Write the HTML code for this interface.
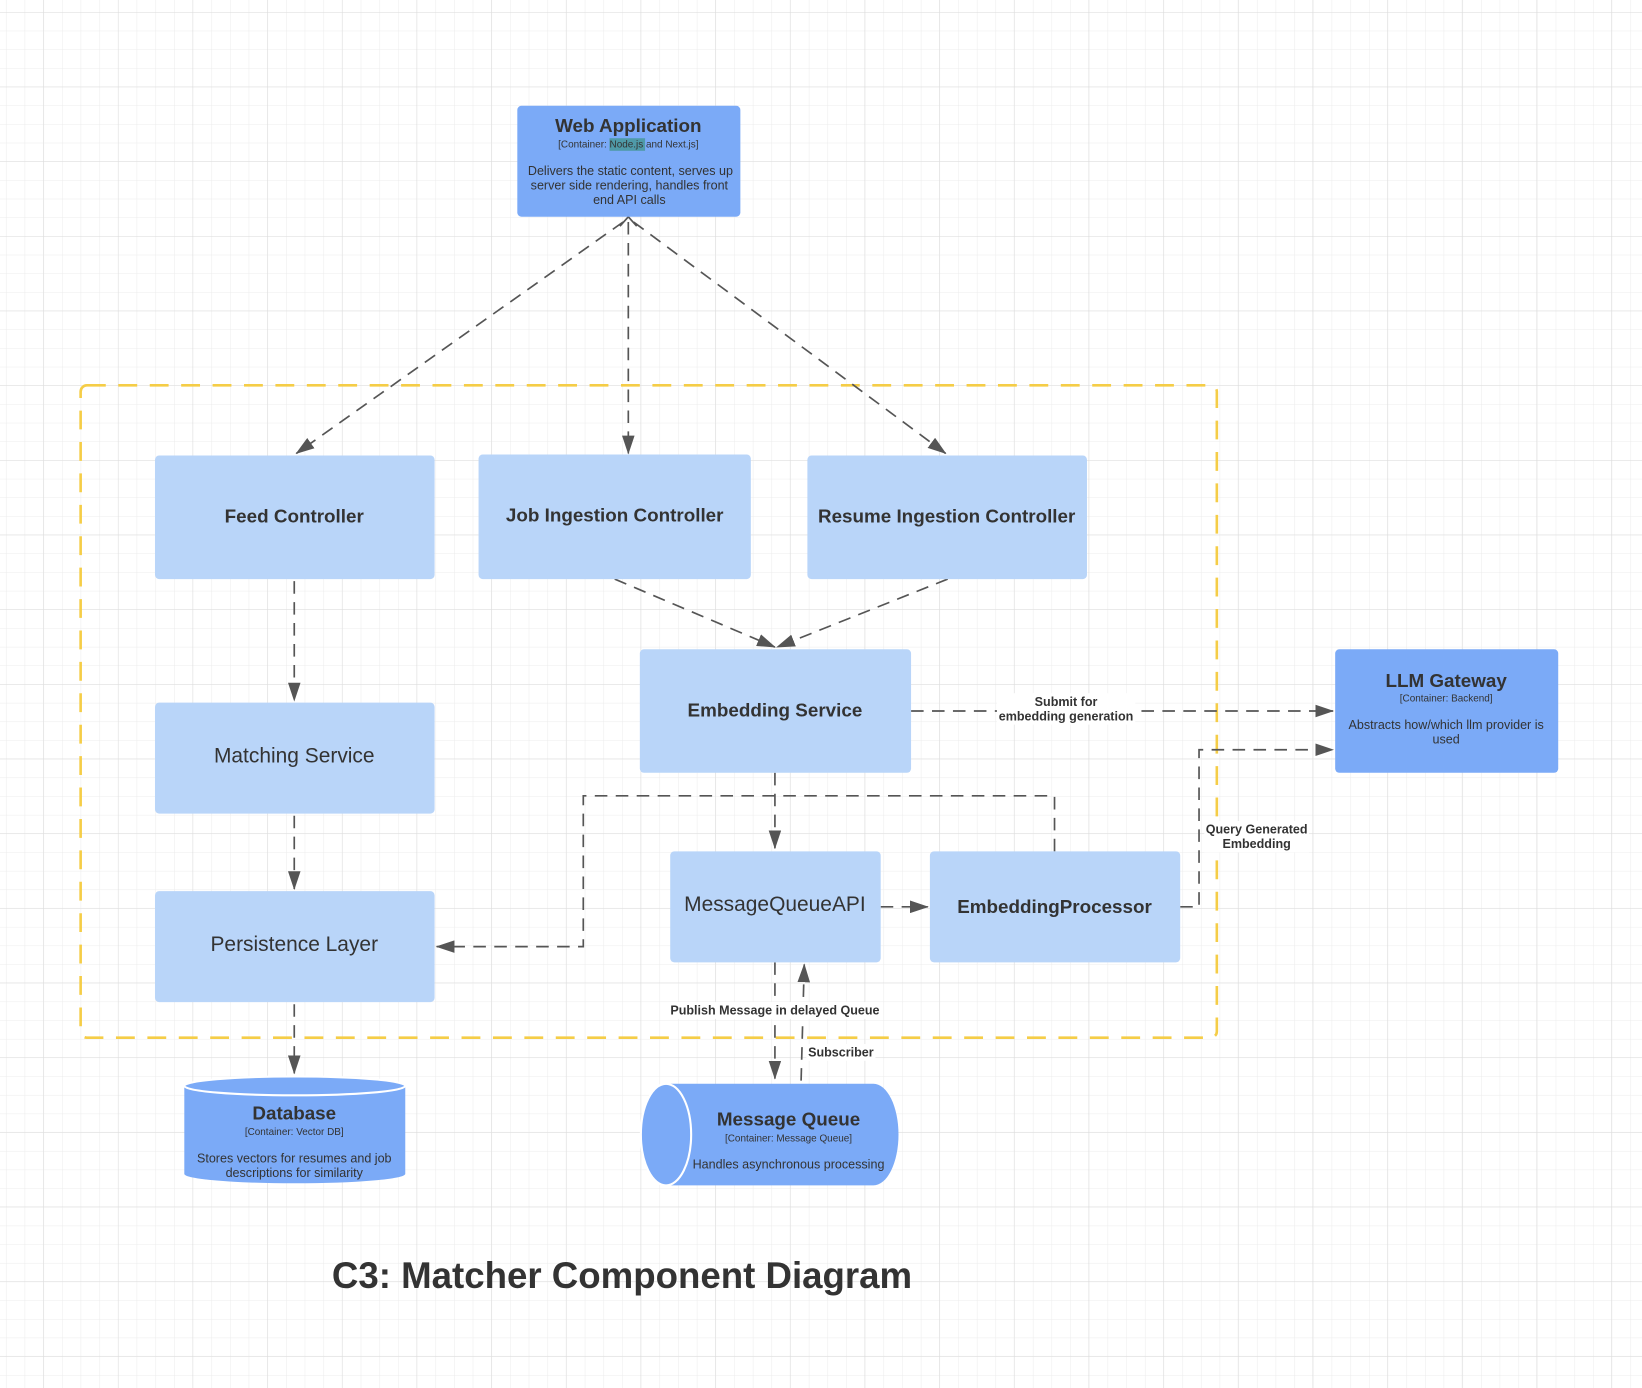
<!DOCTYPE html>
<html><head><meta charset="utf-8"><style>
html,body{margin:0;padding:0;background:#fff;}
svg{display:block;}
text{font-family:"Liberation Sans",Arial,sans-serif;fill:#333;}
</style></head><body>
<svg width="1642" height="1388" viewBox="0 0 1568 1325.5" preserveAspectRatio="none" xmlns="http://www.w3.org/2000/svg">
<defs>
<pattern id="minor" x="5.7" y="11.5" width="17.83" height="17.83" patternUnits="userSpaceOnUse">
<path d="M0 0V17.83M0 0H17.83" stroke="#ececec" stroke-width="1" fill="none"/>
</pattern>
<pattern id="major" x="41.3" y="11.5" width="71.3" height="71.3" patternUnits="userSpaceOnUse">
<path d="M0 0V71.3M0 0H71.3" stroke="#dcdcdc" stroke-width="1" fill="none"/>
</pattern>
<marker id="ar" markerWidth="10" markerHeight="10" refX="9" refY="5" orient="auto" markerUnits="userSpaceOnUse">
<path d="M0 0L10 5L0 10z" fill="#555"/>
</marker>
<marker id="ar2" markerWidth="18" markerHeight="12" refX="17" refY="6" orient="auto" markerUnits="userSpaceOnUse">
<path d="M0 0L18 6L0 12z" fill="#555"/>
</marker>
</defs>
<rect width="1568" height="1325.5" fill="#fff"/>
<rect width="1568" height="1325.5" fill="url(#minor)"/>
<rect width="1568" height="1325.5" fill="url(#major)"/>

<!-- boundary -->
<rect x="77" y="368" width="1085" height="623" rx="6" fill="none" stroke="#f5cd47" stroke-width="2.5" stroke-dasharray="18 12"/>

<g stroke="#555" stroke-width="1.6" fill="none" stroke-dasharray="12 8">
<path d="M595 212L283 433" marker-end="url(#ar2)"/>
<path d="M600 212V433" marker-end="url(#ar2)"/>
<path d="M605 212L903 433" marker-end="url(#ar2)"/>
<path d="M281 555V669" marker-end="url(#ar2)"/>
<path d="M281 779V849" marker-end="url(#ar2)"/>
<path d="M281 959V1025" marker-end="url(#ar2)"/>
<path d="M587 553L740 618" marker-end="url(#ar2)"/>
<path d="M905 553L742 618" marker-end="url(#ar2)"/>
<path d="M740 738V810" marker-end="url(#ar2)"/>
<path d="M1007 813V760H557V904H417" marker-end="url(#ar2)"/>
<path d="M841 866H886" marker-end="url(#ar2)"/>
<path d="M1127 866H1145V716H1273" marker-end="url(#ar2)"/>
<path d="M870 679H1273" marker-end="url(#ar2)"/>
<path d="M740 919V1030" marker-end="url(#ar2)"/>
<path d="M765 1032L768 921" marker-end="url(#ar2)"/>
</g>
<path d="M592 216L600 207L608 216" stroke="#555" stroke-width="1.6" fill="none"/>

<!-- label backgrounds -->
<rect x="952" y="662" width="132" height="30" fill="#fff"/>
<rect x="640" y="957" width="200" height="16" fill="#fff"/>
<rect x="770" y="997" width="66" height="16" fill="#fff"/>
<rect x="1150" y="784" width="100" height="30" fill="#fff"/>
<g font-size="12" font-weight="bold" text-anchor="middle">
<text x="1018" y="674">Submit for</text>
<text x="1018" y="688">embedding generation</text>
<text x="740" y="969">Publish Message in delayed Queue</text>
<text x="803" y="1009">Subscriber</text>
<text x="1200" y="796">Query Generated</text>
<text x="1200" y="810">Embedding</text>
</g>

<!-- light boxes -->
<g fill="#b9d5f9">
<rect x="148" y="435" width="267" height="118" rx="4"/>
<rect x="457" y="434" width="260" height="119" rx="4"/>
<rect x="771" y="435" width="267" height="118" rx="4"/>
<rect x="611" y="620" width="259" height="118" rx="4"/>
<rect x="148" y="671" width="267" height="106" rx="4"/>
<rect x="148" y="851" width="267" height="106" rx="4"/>
<rect x="640" y="813" width="201" height="106" rx="4"/>
<rect x="888" y="813" width="239" height="106" rx="4"/>
</g>
<g font-size="18" font-weight="bold" text-anchor="middle">
<text x="281" y="499">Feed Controller</text>
<text x="587" y="498">Job Ingestion Controller</text>
<text x="904" y="499">Resume Ingestion Controller</text>
<text x="740" y="684">Embedding Service</text>
<text x="1007" y="872">EmbeddingProcessor</text>
</g>
<g font-size="20" text-anchor="middle">
<text x="281" y="728">Matching Service</text>
<text x="281" y="908">Persistence Layer</text>
<text x="740" y="870">MessageQueueAPI</text>
</g>

<!-- dark boxes -->
<rect x="494" y="101" width="213" height="106" rx="4" fill="#7baaf7"/>
<rect x="582" y="132" width="34" height="12" fill="#4f9aa8"/>
<text x="600" y="126" font-size="18" font-weight="bold" text-anchor="middle">Web Application</text>
<text x="600" y="141" font-size="9.5" text-anchor="middle">[Container: Node.js and Next.js]</text>
<g font-size="12" text-anchor="middle">
<text x="602" y="167">Delivers the static content, serves up</text>
<text x="601" y="181">server side rendering, handles front</text>
<text x="601" y="195">end API calls</text>
</g>

<rect x="1275" y="620" width="213" height="118" rx="4" fill="#7baaf7"/>
<text x="1381" y="656" font-size="18" font-weight="bold" text-anchor="middle">LLM Gateway</text>
<text x="1381" y="670" font-size="9.5" text-anchor="middle">[Container: Backend]</text>
<text x="1381" y="696" font-size="12" text-anchor="middle">Abstracts how/which llm provider is</text>
<text x="1381" y="710" font-size="12" text-anchor="middle">used</text>

<!-- database cylinder -->
<path d="M176 1037V1121A105.5 9 0 0 0 387 1121V1037" fill="#7baaf7"/>
<ellipse cx="281.5" cy="1037" rx="105.5" ry="9" fill="#7baaf7" stroke="#fff" stroke-width="2"/>
<text x="281" y="1069" font-size="18" font-weight="bold" text-anchor="middle">Database</text>
<text x="281" y="1084" font-size="9.5" text-anchor="middle">[Container: Vector DB]</text>
<text x="281" y="1110" font-size="12" text-anchor="middle">Stores vectors for resumes and job</text>
<text x="281" y="1124" font-size="12" text-anchor="middle">descriptions for similarity</text>

<!-- message queue cylinder -->
<path d="M636 1035H834A24 48.5 0 0 1 834 1132H636z" fill="#7baaf7"/>
<ellipse cx="636" cy="1083.5" rx="24" ry="48.5" fill="#7baaf7" stroke="#fff" stroke-width="2"/>
<text x="753" y="1075" font-size="18" font-weight="bold" text-anchor="middle">Message Queue</text>
<text x="753" y="1090" font-size="9.5" text-anchor="middle">[Container: Message Queue]</text>
<text x="753" y="1116" font-size="12" text-anchor="middle">Handles asynchronous processing</text>

<text x="594" y="1230" font-size="35" font-weight="bold" text-anchor="middle">C3: Matcher Component Diagram</text>
</svg>
</body></html>
